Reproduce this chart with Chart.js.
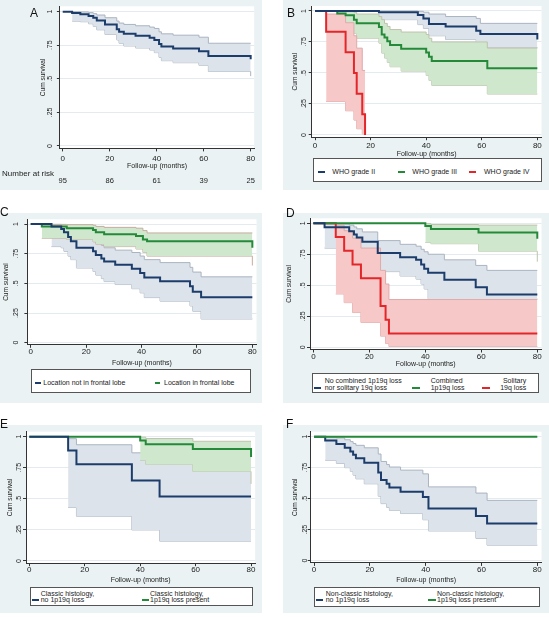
<!DOCTYPE html>
<html>
<head>
<meta charset="utf-8">
<script src="https://cdn.jsdelivr.net/npm/chart.js@4.4.1/dist/chart.umd.min.js"></script>
<style>
  body { margin: 0; background: #fff; }
  #fig { position: relative; width: 549px; height: 617px; overflow: hidden; }
  #fig canvas { position: absolute; }
  .letter { position: absolute; font: 12px 'Liberation Sans', Arial, sans-serif; color: #111; line-height: 12px; }
  .legend { position: absolute; background: #fff; border: 1px solid #555; box-sizing: border-box; }
  .swatch { position: absolute; height: 2px; }
  .key { position: absolute; white-space: nowrap; color: #222; font-size: 7px; line-height: 7px;
         font-family: 'Liberation Sans Narrow', 'Arial Narrow', 'Liberation Sans', Arial, sans-serif; }
</style>
</head>
<body>
<div id="fig"></div>
<script>
// axes
const X_MIN = -1.2, X_MAX = 81.5, Y_MIN = -0.018, Y_MAX = 1.04;
const xTicks = [0, 20, 40, 60, 80];
const yTicks = [0, 0.25, 0.5, 0.75, 1];
const yTickLabels = ["0", ".25", ".5", ".75", "1"];

// A - all patients
const aTime = [0, 4, 7.5, 11, 13, 14.5, 18, 23, 24, 26, 31, 37, 39, 41, 42, 47, 58, 62, 80, 80];
const aSurv = [1, .99, .98, .968, .955, .935, .905, .87, .85, .835, .82, .805, .79, .76, .74, .725, .705, .67, .67, .645];
const aCiTime = [4, 7.5, 11, 13, 14.5, 18, 23, 24, 26, 31, 37, 39, 41, 42, 47, 58, 62, 80, 80];
const aUpper = [1, .998, .993, .985, .975, .955, .93, .915, .905, .895, .885, .875, .85, .835, .825, .81, .765, .765, .765];
const aLower = [.93, .925, .91, .89, .865, .83, .79, .765, .745, .73, .715, .695, .66, .635, .62, .6, .555, .555, .52];
const riskTime = [0, 20, 40, 60, 80];
const riskA = [95, 86, 61, 39, 25];

// B - WHO grade
const bBlueTime = [0, 23, 37, 39, 41, 47, 58, 59.5, 80, 80];
const bBlueSurv = [1, .99, .968, .94, .895, .874, .84, .815, .815, .77];
const bBlueCiTime = [23, 37, 39, 41, 47, 58, 59.5, 80];
const bBlueUpper = [1, .997, .99, .975, .955, .94, .90, .90];
const bBlueLower = [.93, .89, .86, .80, .77, .735, .705, .705];
const bGreenTime = [0, 8, 11, 14, 15, 23, 24, 25, 26, 27, 31, 40, 41, 42, 62, 80];
const bGreenSurv = [1, .98, .965, .93, .90, .87, .81, .785, .755, .725, .695, .665, .63, .597, .538, .538];
const bGreenCiTime = [8, 11, 14, 15, 23, 24, 25, 26, 27, 31, 40, 41, 42, 62, 80];
const bGreenUpper = [1, .998, .99, .975, .955, .93, .90, .875, .85, .83, .81, .78, .75, .70, .70];
const bGreenLower = [.88, .87, .82, .78, .74, .66, .62, .585, .55, .515, .48, .44, .40, .33, .33];
const bRedTime = [0, 4, 11, 14, 15, 17, 18];
const bRedSurv = [1, .833, .667, .5, .333, .167, 0];
const bRedCiTime = [4, 11, 14, 15, 17, 18];
const bRedUpper = [.975, .905, .80, .70, .52, .52];
const bRedLower = [.27, .195, .12, .05, .008, 0];
const bLabels = ["WHO grade II", "WHO grade III", "WHO grade IV"];

// C - location
const cBlueTime = [0, 7.5, 11, 12, 13.5, 14.5, 16.5, 22.5, 23.5, 25.5, 26.5, 30.5, 36.5, 39.5, 41, 46.7, 57.5, 58.5, 61.5, 80];
const cBlueSurv = [1, .98, .958, .93, .89, .855, .80, .77, .74, .71, .685, .657, .624, .587, .55, .517, .475, .43, .382, .382];
const cBlueCiTime = [7.5, 11, 12, 13.5, 14.5, 16.5, 22.5, 23.5, 25.5, 26.5, 30.5, 36.5, 39.5, 41, 46.7, 57.5, 58.5, 61.5, 80];
const cBlueUpper = [.997, .99, .975, .955, .935, .895, .87, .845, .82, .80, .78, .76, .73, .70, .675, .635, .595, .555, .555];
const cBlueLower = [.81, .80, .77, .73, .70, .63, .60, .57, .54, .515, .49, .455, .42, .38, .35, .31, .265, .20, .20];
const cGreenTime = [0, 4, 13, 22.5, 23.5, 26.5, 38, 40.5, 42, 80, 80];
const cGreenSurv = [1, .98, .965, .95, .93, .915, .90, .87, .855, .855, .80];
const cGreenCiTime = [4, 13, 22.5, 23.5, 26.5, 38, 40.5, 42, 80, 80];
const cGreenUpper = [.997, .995, .99, .98, .972, .965, .945, .925, .925, .925];
const cGreenLower = [.88, .87, .85, .83, .81, .79, .76, .73, .73, .65];
const cLabels = ["Location not in frontal lobe", "Location in frontal lobe"];

// D - 1p/19q status
const dBlueTime = [0, 4, 12.8, 14.5, 15.5, 17.5, 23, 31, 36.7, 38.5, 39.6, 41, 46.8, 58, 62, 80];
const dBlueSurv = [1, .968, .935, .91, .885, .85, .76, .726, .705, .667, .634, .60, .545, .484, .425, .425];
const dBlueCiTime = [4, 12.8, 14.5, 15.5, 17.5, 23, 31, 36.7, 38.5, 39.6, 41, 46.8, 58, 62, 80];
const dBlueUpper = [.995, .985, .97, .955, .93, .86, .83, .815, .79, .77, .75, .705, .66, .62, .62];
const dBlueLower = [.80, .79, .77, .75, .70, .61, .575, .55, .51, .47, .39, .39, .39, .39, .39];
const dGreenTime = [0, 40, 42, 59, 80, 80];
const dGreenSurv = [1, .977, .954, .925, .925, .875];
const dGreenCiTime = [40, 42, 59, 80, 80];
const dGreenUpper = [.997, .99, .985, .985, .985];
const dGreenLower = [.845, .835, .775, .775, .69];
const dRedTime = [0, 8, 11, 14, 17, 24, 25.8, 27, 80];
const dRedSurv = [1, .889, .778, .667, .556, .333, .222, .111, .111];
const dRedCiTime = [8, 11, 14, 17, 24, 25.8, 27, 80];
const dRedUpper = [.984, .94, .88, .80, .62, .51, .385, .385];
const dRedLower = [.43, .36, .28, .20, .09, .03, .006, .006];
const dLabels = [["No combined 1p19q loss", "nor solitary 19q loss"], ["Combined", "1p19q loss"], ["Solitary", "19q loss"]];

// E - classic histology
const eBlueTime = [0, 14, 17, 37, 47, 80];
const eBlueSurv = [1, .889, .778, .648, .518, .518];
const eBlueCiTime = [14, 17, 37, 47, 80];
const eBlueUpper = [.984, .935, .87, .78, .78];
const eBlueLower = [.43, .36, .25, .16, .16];
const eGreenTime = [0, 40, 42, 59, 80, 80];
const eGreenSurv = [1, .97, .94, .90, .90, .836];
const eGreenCiTime = [40, 42, 59, 80, 80];
const eGreenUpper = [.996, .985, .963, .963, .963];
const eGreenLower = [.81, .777, .72, .72, .62];
const eLabels = [["Classic histology,", "no 1p19q loss"], ["Classic histology,", "1p19q loss present"]];

// F - non-classic histology
const fBlueTime = [0, 4, 8, 11, 13, 14, 15, 18, 23, 24, 26, 27, 31, 39, 41, 58, 62, 80];
const fBlueSurv = [1, .97, .94, .91, .88, .855, .825, .79, .71, .65, .62, .59, .556, .513, .42, .36, .30, .30];
const fBlueCiTime = [4, 8, 11, 13, 14, 15, 18, 23, 24, 26, 27, 31, 39, 41, 58, 62, 80];
const fBlueUpper = [.995, .99, .975, .96, .945, .93, .91, .86, .80, .775, .755, .73, .70, .595, .545, .486, .486];
const fBlueLower = [.81, .785, .75, .72, .69, .66, .62, .52, .46, .43, .405, .38, .33, .24, .18, .125, .125];
const fGreenTime = [0, 80];
const fGreenSurv = [1, 1];
const fLabels = [["Non-classic histology,", "no 1p19q loss"], ["Non-classic histology,", "1p19q loss present"]];

// styling
const FONT = "'Liberation Sans Narrow', 'Arial Narrow', 'Liberation Sans', Arial, sans-serif";
const BG = "#eaf2f3", GRID = "#e3ebee", AXIS = "#333", TEXT = "#222";
const NAVY = "#1c3d6b", GREEN = "#25893a", RED = "#e3262a";
const BLUE_FILL = "#dde3ea", BLUE_EDGE = "#aab4c1";
const GREEN_FILL = "#cfe8cd", GREEN_EDGE = "#bfc3ad";
const RED_FILL = "#f7c8c8", RED_EDGE = "#dfaaaa";
const TICK_SIZE = 8, YTICK_SIZE = 7, XTITLE_SIZE = 7, YTITLE_SIZE = 6.5;

const fig = document.getElementById("fig");

function pts(t, v) {
    return t.map((x, i) => ({ x, y: v[i] }));
}

function curve(t, s, color, order) {
    return { data: pts(t, s), borderColor: color, borderWidth: 2, stepped: true, fill: false, order };
}

function band(t, upper, lower, fillColor, edge, order) {
    return [
        { data: pts(t, upper), borderColor: edge, borderWidth: 1, stepped: true, fill: "+1", backgroundColor: fillColor, order },
        { data: pts(t, lower), borderColor: edge, borderWidth: 1, stepped: true, fill: false, order },
    ];
}

// panel background + white plot region
const panelBg = {
    id: "panelBg",
    beforeDraw(chart) {
        const { ctx, chartArea: a } = chart;
        ctx.save();
        ctx.fillStyle = BG;
        ctx.fillRect(0, 0, chart.width, chart.height);
        ctx.fillStyle = "#fff";
        ctx.fillRect(a.left, a.top, a.right - a.left, a.bottom - a.top);
        ctx.restore();
    },
};

// Stata style vertical y tick labels
const yLabels = {
    id: "ylab",
    afterDraw(chart, args, opts) {
        const { ctx } = chart;
        const y = chart.scales.y;
        ctx.save();
        ctx.font = YTICK_SIZE + "px " + FONT;
        ctx.fillStyle = TEXT;
        ctx.textAlign = "center";
        ctx.textBaseline = "middle";
        yTicks.forEach((v, i) => {
            ctx.save();
            ctx.translate(opts.x, y.getPixelForValue(v));
            ctx.rotate(-Math.PI / 2);
            ctx.fillText(yTickLabels[i], 0, 0);
            ctx.restore();
        });
        ctx.restore();
    },
};

const riskRow = {
    id: "risk",
    afterDraw(chart, args, opts) {
        const { ctx } = chart;
        const x = chart.scales.x;
        ctx.save();
        ctx.fillStyle = TEXT;
        ctx.textBaseline = "middle";
        ctx.font = "8px " + FONT;
        ctx.textAlign = "left";
        ctx.fillText("Number at risk", opts.labelX, opts.labelY);
        ctx.font = "7.5px " + FONT;
        ctx.textAlign = "center";
        opts.times.forEach((t, i) => ctx.fillText(String(opts.counts[i]), x.getPixelForValue(t), opts.numY));
        ctx.restore();
    },
};

function kmPanel(g, datasets, risk) {
    const canvas = document.createElement("canvas");
    canvas.width = g.bg.w;
    canvas.height = g.bg.h;
    canvas.style.left = g.bg.x + "px";
    canvas.style.top = g.bg.y + "px";
    fig.appendChild(canvas);

    const a = g.area;
    const tl = 3;
    const xTickPad = g.xTickY - a.B - tl - 0.6 * TICK_SIZE;
    const xTitlePad = g.bg.y + g.bg.h - g.xTitleY - 0.6 * XTITLE_SIZE;
    const yTitlePad = g.yTitleX - g.bg.x - 0.6 * YTITLE_SIZE;

    new Chart(canvas, {
        type: "line",
        data: { datasets },
        options: {
            responsive: false,
            animation: false,
            devicePixelRatio: 1,
            layout: {
                autoPadding: false,
                padding: { left: 0, top: a.T - g.bg.y, right: g.bg.x + g.bg.w - a.R, bottom: 0 },
            },
            elements: { point: { radius: 0 }, line: { tension: 0 } },
            plugins: {
                legend: { display: false },
                tooltip: { enabled: false },
                ylab: { x: g.yTickX - g.bg.x },
                risk: risk || false,
            },
            scales: {
                x: {
                    type: "linear",
                    min: X_MIN,
                    max: X_MAX,
                    afterBuildTicks: (s) => { s.ticks = xTicks.map((v) => ({ value: v })); },
                    afterFit: (s) => { s.height = g.bg.y + g.bg.h - a.B; },
                    grid: { drawOnChartArea: false, tickLength: tl, tickColor: AXIS },
                    border: { color: AXIS, width: 1 },
                    ticks: { padding: xTickPad, maxRotation: 0, autoSkip: false, color: TEXT, font: { family: FONT, size: TICK_SIZE } },
                    title: {
                        display: true,
                        text: "Follow-up (months)",
                        color: TEXT,
                        font: { family: FONT, size: XTITLE_SIZE },
                        padding: { top: 0, bottom: xTitlePad },
                    },
                },
                y: {
                    type: "linear",
                    min: Y_MIN,
                    max: Y_MAX,
                    afterBuildTicks: (s) => { s.ticks = yTicks.map((v) => ({ value: v })); },
                    afterFit: (s) => { s.width = a.L - g.bg.x; },
                    grid: { color: GRID, lineWidth: 1, tickLength: tl, tickColor: AXIS },
                    border: { color: AXIS, width: 1 },
                    ticks: { display: false },
                    title: {
                        display: true,
                        text: "Cum survival",
                        color: TEXT,
                        font: { family: FONT, size: YTITLE_SIZE },
                        padding: { top: yTitlePad, bottom: 0 },
                    },
                },
            },
        },
        plugins: [panelBg, yLabels, riskRow],
    });

    const letter = document.createElement("div");
    letter.className = "letter";
    letter.textContent = g.letter.text;
    letter.style.left = g.letter.x + "px";
    letter.style.top = g.letter.y + "px";
    fig.appendChild(letter);
}

function legendBox(box, entries) {
    const d = document.createElement("div");
    d.className = "legend";
    d.style.left = box.x + "px";
    d.style.top = box.y + "px";
    d.style.width = box.w + "px";
    d.style.height = box.h + "px";
    fig.appendChild(d);
    entries.forEach((e) => {
        const sw = document.createElement("div");
        sw.className = "swatch";
        sw.style.left = e.sx - box.x - 1 + "px";
        sw.style.width = e.sw + "px";
        sw.style.top = e.sy - box.y - 2 + "px";
        sw.style.background = e.color;
        d.appendChild(sw);
        const lines = Array.isArray(e.text) ? e.text : [e.text];
        lines.forEach((txt, i) => {
            const s = document.createElement("div");
            s.className = "key";
            s.textContent = txt;
            s.style.top = e.ty[i] - box.y - 1 - 3.5 + "px";
            if (e.right) {
                s.style.right = box.x + box.w - e.tx - 1 + "px";
                s.style.textAlign = "right";
            } else {
                s.style.left = e.tx - box.x - 1 + "px";
            }
            d.appendChild(s);
        });
    });
}

// A
kmPanel(
    { bg: { x: 0, y: 0, w: 262, h: 190 }, area: { L: 59.9, R: 254.2, T: 6.3, B: 148.4 },
      yTitleX: 43, yTickX: 49.7, xTickY: 158.3, xTitleY: 165.7, letter: { text: "A", x: 30, y: 7 } },
    [curve(aTime, aSurv, NAVY, 0), ...band(aCiTime, aUpper, aLower, BLUE_FILL, BLUE_EDGE, 5)],
    { labelX: 2, labelY: 174, numY: 181, times: riskTime, counts: riskA }
);

// B
kmPanel(
    { bg: { x: 283, y: 0, w: 266, h: 190 }, area: { L: 311.7, R: 541.5, T: 6, B: 137.2 },
      yTitleX: 295.5, yTickX: 304.5, xTickY: 145.7, xTitleY: 154, letter: { text: "B", x: 287, y: 7 } },
    [
        curve(bBlueTime, bBlueSurv, NAVY, 0),
        curve(bGreenTime, bGreenSurv, GREEN, 0),
        curve(bRedTime, bRedSurv, RED, 0),
        ...band(bBlueCiTime, bBlueUpper, bBlueLower, BLUE_FILL, BLUE_EDGE, 6),
        ...band(bGreenCiTime, bGreenUpper, bGreenLower, GREEN_FILL, GREEN_EDGE, 5),
        ...band(bRedCiTime, bRedUpper, bRedLower, RED_FILL, RED_EDGE, 4),
    ]
);
legendBox({ x: 313, y: 158, w: 229, h: 24 }, [
    { color: NAVY, sx: 317.5, sw: 7, sy: 171.7, tx: 332.3, ty: [171.7], text: bLabels[0] },
    { color: GREEN, sx: 397.5, sw: 7, sy: 171.7, tx: 412.3, ty: [171.7], text: bLabels[1] },
    { color: RED, sx: 469, sw: 7, sy: 171.7, tx: 484, ty: [171.7], text: bLabels[2] },
]);

// C
kmPanel(
    { bg: { x: 0, y: 213, w: 262, h: 190 }, area: { L: 27.4, R: 256.5, T: 219.3, B: 344.8 },
      yTitleX: 6.5, yTickX: 16, xTickY: 351.7, xTitleY: 362.7, letter: { text: "C", x: 0, y: 206 } },
    [
        curve(cBlueTime, cBlueSurv, NAVY, 0),
        curve(cGreenTime, cGreenSurv, GREEN, 0),
        ...band(cBlueCiTime, cBlueUpper, cBlueLower, BLUE_FILL, BLUE_EDGE, 6),
        ...band(cGreenCiTime, cGreenUpper, cGreenLower, GREEN_FILL, "#c9ab9f", 5),
    ]
);
legendBox({ x: 30.7, y: 369.3, w: 220.3, h: 24 }, [
    { color: NAVY, sx: 35.5, sw: 5.5, sy: 382.7, tx: 43.3, ty: [382.7], text: cLabels[0] },
    { color: GREEN, sx: 155, sw: 5.5, sy: 382.7, tx: 164, ty: [382.7], text: cLabels[1] },
]);

// D
kmPanel(
    { bg: { x: 283, y: 213, w: 266, h: 190 }, area: { L: 310, R: 541.5, T: 218.3, B: 349.5 },
      yTitleX: 289, yTickX: 303, xTickY: 356.7, xTitleY: 364, letter: { text: "D", x: 286, y: 207 } },
    [
        curve(dBlueTime, dBlueSurv, NAVY, 0),
        curve(dGreenTime, dGreenSurv, GREEN, 0),
        curve(dRedTime, dRedSurv, RED, 0),
        ...band(dBlueCiTime, dBlueUpper, dBlueLower, BLUE_FILL, BLUE_EDGE, 6),
        ...band(dGreenCiTime, dGreenUpper, dGreenLower, GREEN_FILL, GREEN_EDGE, 5),
        ...band(dRedCiTime, dRedUpper, dRedLower, RED_FILL, RED_EDGE, 4),
    ]
);
legendBox({ x: 311.7, y: 373.3, w: 227.3, h: 20 }, [
    { color: NAVY, sx: 314, sw: 7, sy: 387.7, tx: 324.7, ty: [381, 387.7], text: dLabels[0] },
    { color: GREEN, sx: 412.5, sw: 8, sy: 387.7, tx: 430.7, ty: [381, 387.7], text: dLabels[1] },
    { color: RED, sx: 482.5, sw: 8, sy: 387.7, tx: 526.3, ty: [381, 387.7], text: dLabels[2], right: true },
]);

// E
kmPanel(
    { bg: { x: 0, y: 425, w: 262, h: 188 }, area: { L: 26, R: 255.2, T: 431.7, B: 563.2 },
      yTitleX: 10, yTickX: 19, xTickY: 569.3, xTitleY: 580, letter: { text: "E", x: 0, y: 418 } },
    [
        curve(eBlueTime, eBlueSurv, NAVY, 0),
        curve(eGreenTime, eGreenSurv, GREEN, 0),
        ...band(eBlueCiTime, eBlueUpper, eBlueLower, BLUE_FILL, BLUE_EDGE, 6),
        ...band(eGreenCiTime, eGreenUpper, eGreenLower, GREEN_FILL, GREEN_EDGE, 5),
    ]
);
legendBox({ x: 30, y: 586.7, w: 223.3, h: 19.3 }, [
    { color: NAVY, sx: 31.5, sw: 7, sy: 600, tx: 40.7, ty: [593.3, 600], text: eLabels[0] },
    { color: GREEN, sx: 141.7, sw: 7, sy: 600, tx: 150, ty: [593.3, 600], text: eLabels[1] },
]);

// F
kmPanel(
    { bg: { x: 283, y: 425, w: 266, h: 188 }, area: { L: 310.7, R: 541.5, T: 431.7, B: 562.9 },
      yTitleX: 295, yTickX: 305, xTickY: 569.3, xTitleY: 580, letter: { text: "F", x: 286, y: 418 } },
    [
        curve(fGreenTime, fGreenSurv, GREEN, 0),
        curve(fBlueTime, fBlueSurv, NAVY, 1),
        ...band(fBlueCiTime, fBlueUpper, fBlueLower, BLUE_FILL, BLUE_EDGE, 6),
    ]
);
legendBox({ x: 314, y: 586.7, w: 225.7, h: 20 }, [
    { color: NAVY, sx: 315.7, sw: 7.5, sy: 600, tx: 325.7, ty: [593.3, 600], text: fLabels[0] },
    { color: GREEN, sx: 428, sw: 7.5, sy: 600, tx: 437, ty: [593.3, 600], text: fLabels[1] },
]);
</script>
</body>
</html>
